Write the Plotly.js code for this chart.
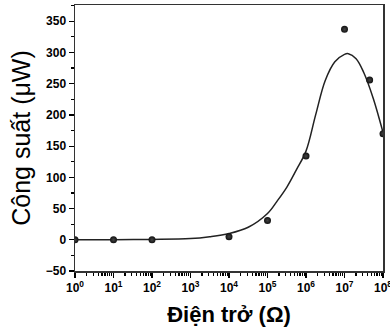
<!DOCTYPE html>
<html><head><meta charset="utf-8">
<script src="https://cdn.plot.ly/plotly-3.0.1.min.js"></script>
<style>html,body{margin:0;padding:0;background:#fff}#chart{width:390px;height:332px}</style>
</head><body><div id="chart"></div>
<script>
// measured points
const resistance = [1, 10, 100, 1e4, 1e5, 1e6, 1e7, 4.5e7, 1e8];
const power = [0, 0, 0, 5, 31, 134, 337, 256, 170];
// fitted curve
const fitX = [1, 10, 100, 1e3, 3.16e3, 1e4, 3.16e4, 1e5, 1.78e5, 3.16e5, 5.62e5, 1e6, 1.78e6, 3.16e6, 5.62e6, 1e7, 1.26e7, 2e7, 3.16e7, 5.62e7, 1e8];
const fitY = [0, 0.2, 0.6, 2, 5, 10, 20, 42, 62, 84, 112, 142, 200, 255, 285, 297, 298, 290, 268, 226, 172];
const tickVals = [1, 10, 100, 1e3, 1e4, 1e5, 1e6, 1e7, 1e8];
const tickText = ['10<sup>0</sup>','10<sup>1</sup>','10<sup>2</sup>','10<sup>3</sup>','10<sup>4</sup>','10<sup>5</sup>','10<sup>6</sup>','10<sup>7</sup>','10<sup>8</sup>'];

const minorVals = [];
for (let e = 0; e < 8; e++) for (let m = 2; m <= 9; m++) minorVals.push(m * Math.pow(10, e));

const font = 'Liberation Sans, Arial, sans-serif';
const data = [
  {x: fitX, y: fitY, mode: 'lines', line: {color: '#222', width: 1.5, shape: 'spline', smoothing: 1}, hoverinfo: 'skip'},
  {x: resistance, y: power, mode: 'markers', marker: {color: '#111', size: 7, gradient: {type: 'radial', color: '#444'}}}
];
const layout = {
  width: 390, height: 332,
  margin: {l: 75, r: 7, t: 5, b: 61},
  showlegend: false,
  paper_bgcolor: '#fff', plot_bgcolor: '#fff',
  font: {family: font, color: '#000'},
  xaxis: {
    type: 'log', range: [0, 8],
    tickmode: 'array', tickvals: tickVals, ticktext: tickText,
    ticks: 'outside', ticklen: 5, tickwidth: 1.2, tickcolor: '#000',
    ticklabeloverflow: 'allow',
    minor: {tickmode: 'array', tickvals: minorVals, ticks: 'outside', ticklen: 3, tickcolor: '#000', showgrid: false},
    showline: true, linecolor: '#333', linewidth: 1.5, mirror: true,
    showgrid: false, zeroline: false,
    tickfont: {family: font, size: 12, color: '#000', weight: 'bold'},
    title: {text: '<b>Điện trở (Ω)</b>', font: {family: font, size: 22, color: '#000'}, standoff: 12}
  },
  yaxis: {
    range: [-50, 376],
    tickmode: 'linear', tick0: -50, dtick: 50,
    ticks: 'outside', ticklen: 5, tickwidth: 1.2, tickcolor: '#000',
    minor: {dtick: 25, ticks: 'outside', ticklen: 3, tickcolor: '#000', showgrid: false},
    showline: true, linecolor: '#333', linewidth: 1.5, mirror: true,
    showgrid: false, zeroline: false,
    tickfont: {family: font, size: 12, color: '#000', weight: 'bold'},
    title: {text: 'Công suất (μW)', font: {family: font, size: 25, color: '#000'}, standoff: 8}
  }
};
Plotly.newPlot('chart', data, layout, {displayModeBar: false, staticPlot: true});
</script></body></html>
